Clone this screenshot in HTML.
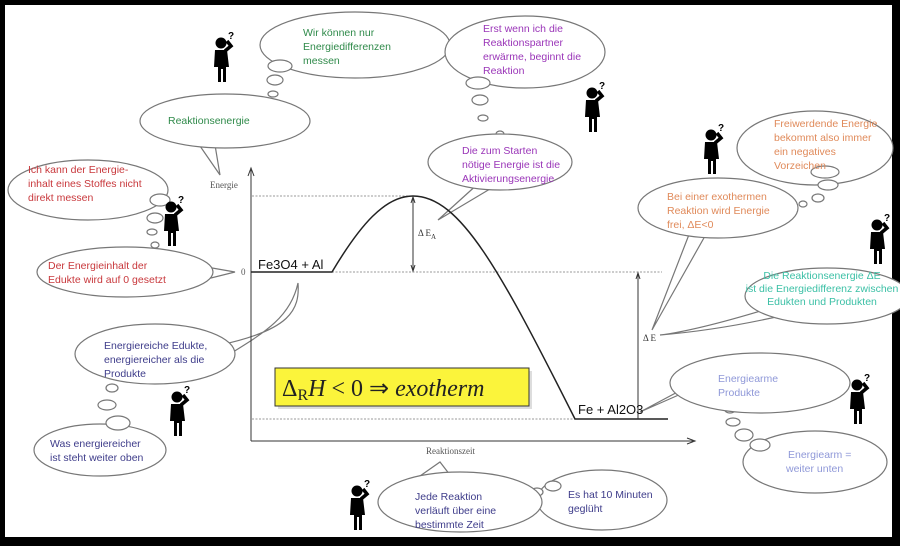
<!DOCTYPE html>
<html><head><meta charset="utf-8"><style>
html,body{margin:0;padding:0;background:#000}
svg{display:block}
text{font-family:"Liberation Sans",sans-serif;font-size:10.5px}
</style></head><body>
<svg width="900" height="546" viewBox="0 0 900 546" xmlns="http://www.w3.org/2000/svg">
<defs>
<g id="p">
<circle cx="-1" cy="-15" r="5.5" fill="#000"/>
<path d="M-7,-8 L5,-8 L7,9 L4,9 L4,24 L1,24 L1,11 L-1,11 L-1,24 L-4,24 L-4,9 L-8,9 Z" fill="#000"/>
<path d="M3,-7 L9,-12 L5,-17" stroke="#000" stroke-width="3.5" fill="none"/>
<text x="6" y="-19" style="font-size:10px;font-weight:bold">?</text>
</g>
</defs>
<rect x="0" y="0" width="900" height="546" fill="#000"/>
<rect x="5" y="5" width="887" height="532" fill="#fff"/>
<g fill="#fff" stroke="#777" stroke-width="1.2">
<ellipse cx="355" cy="45" rx="95" ry="33"/>
<ellipse cx="525" cy="52" rx="80" ry="36"/>
<ellipse cx="88" cy="190" rx="80" ry="30"/>
<ellipse cx="100" cy="450" rx="66" ry="26"/>
<ellipse cx="602" cy="500" rx="65" ry="30"/>
<ellipse cx="815" cy="462" rx="72" ry="31"/>
<ellipse cx="815" cy="148" rx="78" ry="37"/>
<ellipse cx="280" cy="66" rx="12" ry="6"/><ellipse cx="275" cy="80" rx="8" ry="5"/><ellipse cx="273" cy="94" rx="5" ry="3"/>
<ellipse cx="478" cy="83" rx="12" ry="6"/><ellipse cx="480" cy="100" rx="8" ry="5"/><ellipse cx="483" cy="118" rx="5" ry="3"/><ellipse cx="500" cy="134" rx="4" ry="3"/>
<ellipse cx="160" cy="200" rx="10" ry="6"/><ellipse cx="155" cy="218" rx="8" ry="5"/><ellipse cx="152" cy="232" rx="5" ry="3"/><ellipse cx="155" cy="245" rx="4" ry="3"/>
<ellipse cx="112" cy="388" rx="6" ry="4"/><ellipse cx="107" cy="405" rx="9" ry="5"/><ellipse cx="118" cy="423" rx="12" ry="7"/>
<ellipse cx="537" cy="492" rx="6" ry="4"/><ellipse cx="553" cy="486" rx="8" ry="5"/>
<ellipse cx="730" cy="410" rx="5" ry="3"/><ellipse cx="733" cy="422" rx="7" ry="4"/><ellipse cx="744" cy="435" rx="9" ry="6"/><ellipse cx="760" cy="445" rx="10" ry="6"/>
<ellipse cx="825" cy="172" rx="14" ry="6"/><ellipse cx="828" cy="185" rx="10" ry="5"/><ellipse cx="818" cy="198" rx="6" ry="4"/><ellipse cx="803" cy="204" rx="4" ry="3"/>
<path d="M200,146 L220,175 L215,145 Z"/><ellipse cx="225" cy="121" rx="85" ry="27"/>
<path d="M480,182 L438,220 L495,186 Z"/><ellipse cx="500" cy="162" rx="72" ry="28"/>
<path d="M195,265 L235,272 L195,282 Z"/><ellipse cx="125" cy="272" rx="88" ry="25"/>
<path d="M220,345 C290,330 300,310 298,283 C290,320 260,335 220,360 Z"/><ellipse cx="155" cy="354" rx="80" ry="30"/>
<path d="M420,476 L440,462 L450,475 Z"/><ellipse cx="460" cy="502" rx="82" ry="30"/>
<path d="M690,390 L640,412 L700,380 Z"/><ellipse cx="760" cy="383" rx="90" ry="30"/>
<path d="M690,232 L652,330 L705,236 Z"/><ellipse cx="718" cy="208" rx="80" ry="30"/>
<path d="M780,305 Q700,330 660,335 Q720,330 785,315 Z"/><ellipse cx="827" cy="296" rx="82" ry="28"/>
</g>
<g stroke="#333" fill="none">
<line x1="251" y1="170" x2="251" y2="441" stroke-width="1"/>
<line x1="251" y1="441" x2="693" y2="441"/>
<path d="M248,176 L251,168 L254,176" /><path d="M687,438 L695,441 L687,444"/>
<g stroke-dasharray="2,1.5" stroke="#777" stroke-width="0.8">
<line x1="252" y1="196" x2="412" y2="196"/><line x1="332" y1="272" x2="662" y2="272"/><line x1="252" y1="419" x2="668" y2="419"/>
</g>
<path d="M251,272 L332,272 C360,225 385,196 413,196 C460,196 500,270 575,419 L668,419" stroke-width="1.5" stroke="#222"/>
<line x1="413" y1="198" x2="413" y2="270"/><path d="M411,203 L413,197 L415,203 M411,265 L413,271 L415,265"/>
<line x1="638" y1="274" x2="638" y2="419"/><path d="M636,279 L638,273 L640,279"/>
</g>
<text x="418" y="236" style="font-family:'Liberation Serif',serif;font-size:9px" fill="#333">Δ E<tspan dy="3" style="font-size:7px">A</tspan></text>
<text x="643" y="341" style="font-family:'Liberation Serif',serif;font-size:9px" fill="#333">Δ E</text>
<text x="210" y="188" style="font-family:'Liberation Serif',serif;font-size:9px" fill="#555">Energie</text>
<text x="241" y="275" style="font-family:'Liberation Serif',serif;font-size:9px" fill="#555">0</text>
<text x="426" y="454" style="font-family:'Liberation Serif',serif;font-size:9px" fill="#555">Reaktionszeit</text>
<text x="258" y="269" style="font-size:13px" fill="#111">Fe3O4 + Al</text>
<text x="578" y="414" style="font-size:13px" fill="#111">Fe + Al2O3</text>
<rect x="278" y="371" width="254" height="38" fill="#bbb" opacity="0.5"/>
<rect x="275" y="368" width="254" height="38" fill="#fbf43b" stroke="#333"/>
<text x="282" y="396" style="font-family:'Liberation Serif',serif;font-size:24px" fill="#222">Δ<tspan dy="4" style="font-size:16px">R</tspan><tspan dy="-4" font-style="italic">H</tspan> &lt; 0 ⇒ <tspan font-style="italic">exotherm</tspan></text>
<g fill="#2f8a4a"><text x="303" y="36">Wir können nur</text><text x="303" y="50">Energiedifferenzen</text><text x="303" y="64">messen</text>
<text x="168" y="124">Reaktionsenergie</text></g>
<g fill="#9a35b8"><text x="483" y="32">Erst wenn ich die</text><text x="483" y="46">Reaktionspartner</text><text x="483" y="60">erwärme, beginnt die</text><text x="483" y="74">Reaktion</text>
<text x="462" y="154">Die zum Starten</text><text x="462" y="168">nötige Energie ist die</text><text x="462" y="182">Aktivierungsenergie</text></g>
<g fill="#c8383c"><text x="28" y="173">Ich kann der Energie-</text><text x="28" y="187">inhalt eines Stoffes nicht</text><text x="28" y="201">direkt messen</text>
<text x="48" y="269">Der Energieinhalt der</text><text x="48" y="283">Edukte wird auf 0 gesetzt</text></g>
<g fill="#3e3c8a"><text x="104" y="349">Energiereiche Edukte,</text><text x="104" y="363">energiereicher als die</text><text x="104" y="377">Produkte</text>
<text x="50" y="447">Was energiereicher</text><text x="50" y="461">ist steht weiter oben</text>
<text x="415" y="500">Jede Reaktion</text><text x="415" y="514">verläuft über eine</text><text x="415" y="528">bestimmte Zeit</text>
<text x="568" y="498">Es hat 10 Minuten</text><text x="568" y="512">geglüht</text></g>
<g fill="#e08a5a"><text x="774" y="127">Freiwerdende Energie</text><text x="774" y="141">bekommt also immer</text><text x="774" y="155">ein negatives</text><text x="774" y="169">Vorzeichen</text>
<text x="667" y="200">Bei einer exothermen</text><text x="667" y="214">Reaktion wird Energie</text><text x="667" y="228">frei,  ΔE&lt;0</text></g>
<g fill="#3cc0a6" text-anchor="middle" style="font-size:10px"><text x="822" y="279">Die Reaktionsenergie ΔE</text><text x="822" y="292">ist die Energiedifferenz zwischen</text><text x="822" y="305">Edukten und Produkten</text></g>
<g fill="#8f98d8"><text x="718" y="382">Energiearme</text><text x="718" y="396">Produkte</text>
<text x="788" y="458">Energiearm =</text><text x="786" y="472">weiter unten</text></g>
<use href="#p" x="222" y="58"/><use href="#p" x="172" y="222"/><use href="#p" x="178" y="412"/>
<use href="#p" x="593" y="108"/><use href="#p" x="712" y="150"/><use href="#p" x="878" y="240"/>
<use href="#p" x="858" y="400"/><use href="#p" x="358" y="506"/>
</svg>
</body></html>
